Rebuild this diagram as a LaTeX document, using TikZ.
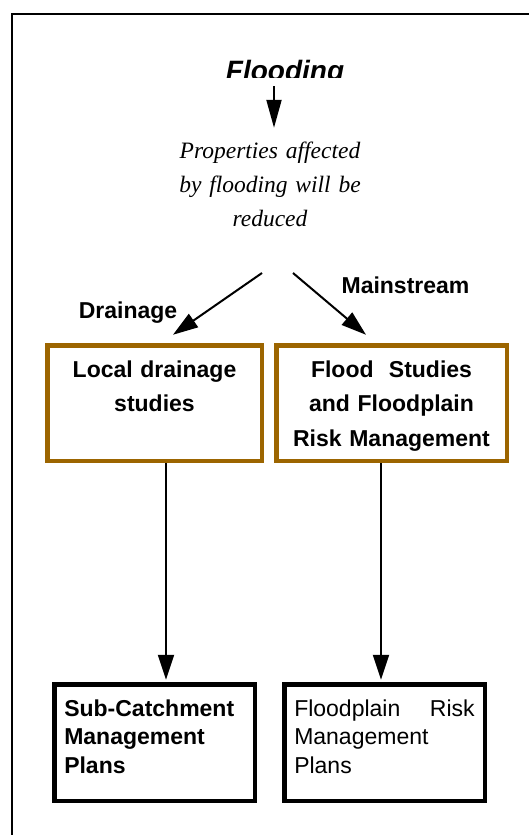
\documentclass[tikz,border=0pt]{standalone}
\usepackage{fontspec}
\setmainfont{Liberation Sans}
\newfontfamily\serifit{Liberation Serif}
\usepackage{tikz}
\usetikzlibrary{arrows.meta,positioning}
\definecolor{boxbrown}{HTML}{9C6500}

\begin{document}
\begin{tikzpicture}[x=1pt,y=-1pt,on grid,
  bigarrow/.style={line width=2pt,-{Triangle[length=25pt,width=16pt]}},
  studybox/.style={draw=boxbrown,line width=4.5pt,inner sep=0pt,align=center,text height=31.75pt,text depth=83.75pt,font=\bfseries\fontsize{23}{34.5}\selectfont},
  planbox/.style={draw=black,line width=4.5pt,inner xsep=10pt,inner ysep=0pt,text width=180.5pt,align=left,text height=31.75pt,text depth=84.75pt},
  branchlbl/.style={font=\bfseries\fontsize{23}{28}\selectfont,anchor=base,inner sep=0pt}]
\useasboundingbox (0,0) rectangle (529,835);
\draw[line width=2pt] (529,14) -- (12,14) -- (12,835);
\begin{scope}
  \clip (150,40) rectangle (420,77);
  \node[anchor=base,inner sep=0pt,font=\bfseries\itshape\fontsize{28}{30}\selectfont] (flood) at (285,80) {Flooding};
\end{scope}
\node[anchor=base,inner sep=0pt,text width=230pt,align=center,text height=20pt,font=\serifit\itshape\fontsize{23.5}{34}\selectfont] (props) at (270,158) {Properties affected\\by flooding will be\\reduced};
\coordinate (dl) at (262,273);
\coordinate (dr) at (293,273);
\node[branchlbl] (drain) at (128,318) {Drainage};
\node[branchlbl] (mainst) at (405.5,293) {Mainstream};
\node[studybox,text width=214.5pt] (b1) at (154.5,403) {Local drainage\\studies};
\node[studybox,text width=230.5pt] (b2) [right=237pt of b1] {Flood\ \ Studies\\and Floodplain\\Risk Management};
\node[planbox,font=\bfseries\fontsize{23}{28.5}\selectfont] (b3) [below=339.5pt of b1] {Sub-Catchment\\Management\\Plans};
\node[planbox,font=\fontsize{23}{28.5}\selectfont] (b4) [right=230pt of b3] {Floodplain\hfill Risk\\Management\\Plans};
\draw[bigarrow,-{Triangle[length=28pt,width=15pt]}] ([xshift=-11pt,yshift=-6pt]flood.base) -- ([xshift=4pt,yshift=10pt]props.north);
\draw[bigarrow] (dl) -- ([xshift=18.5pt,yshift=8.25pt]b1.north);
\draw[bigarrow] (dr) -- ([xshift=-25.5pt,yshift=8.25pt]b2.north);
\draw[bigarrow,shorten >=2.25pt] ([xshift=11.5pt]b1.south) -- ([xshift=11.5pt]b1.south |- b3.north);
\draw[bigarrow,shorten >=2.25pt] ([xshift=-10.5pt]b2.south) -- ([xshift=-10.5pt]b2.south |- b4.north);
\end{tikzpicture}
\end{document}
